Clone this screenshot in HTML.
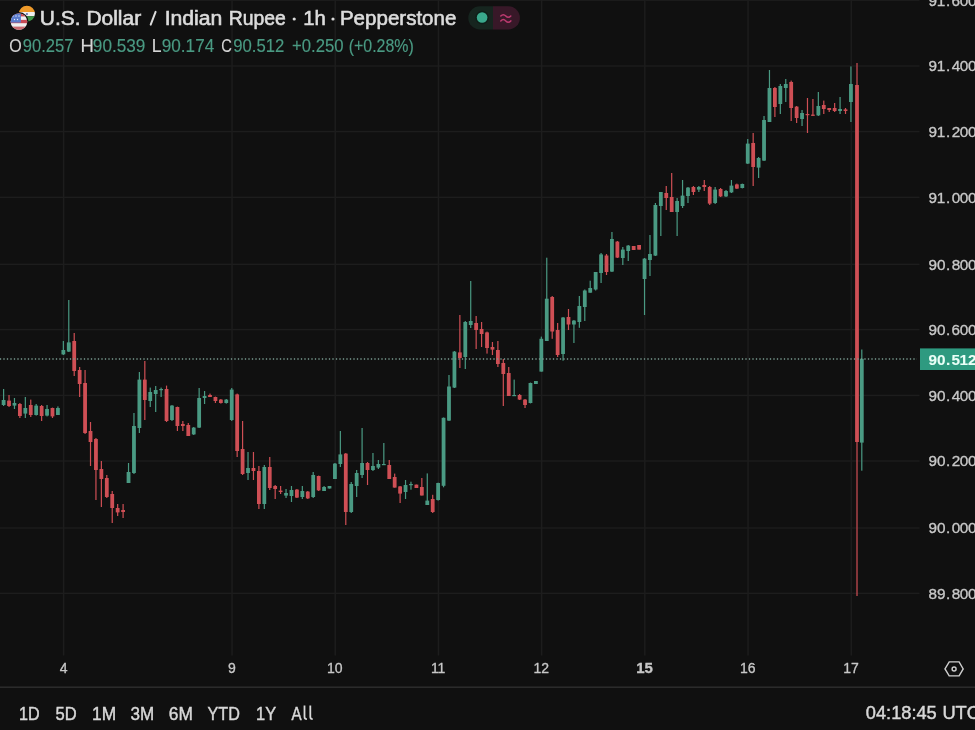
<!DOCTYPE html>
<html><head><meta charset="utf-8"><title>USDINR</title>
<style>
html,body{margin:0;padding:0;background:#101010;width:975px;height:730px;overflow:hidden;}
svg{position:absolute;left:0;top:0;font-family:"Liberation Sans",sans-serif;will-change:transform;}
</style></head><body>
<svg width="975" height="730" viewBox="0 0 975 730">
<rect x="0" y="-0.50" width="919.5" height="1.4" fill="#1d1d1d"/>
<rect x="0" y="65.30" width="919.5" height="1.4" fill="#1d1d1d"/>
<rect x="0" y="130.90" width="919.5" height="1.4" fill="#1d1d1d"/>
<rect x="0" y="196.60" width="919.5" height="1.4" fill="#1d1d1d"/>
<rect x="0" y="263.60" width="919.5" height="1.4" fill="#1d1d1d"/>
<rect x="0" y="328.90" width="919.5" height="1.4" fill="#1d1d1d"/>
<rect x="0" y="394.70" width="919.5" height="1.4" fill="#1d1d1d"/>
<rect x="0" y="460.30" width="919.5" height="1.4" fill="#1d1d1d"/>
<rect x="0" y="527.30" width="919.5" height="1.4" fill="#1d1d1d"/>
<rect x="0" y="592.60" width="919.5" height="1.4" fill="#1d1d1d"/>
<rect x="62.90" y="0" width="1.5" height="655.5" fill="#1d1d1d"/>
<rect x="231.28" y="0" width="1.5" height="655.5" fill="#1d1d1d"/>
<rect x="334.48" y="0" width="1.5" height="655.5" fill="#1d1d1d"/>
<rect x="437.68" y="0" width="1.5" height="655.5" fill="#1d1d1d"/>
<rect x="540.88" y="0" width="1.5" height="655.5" fill="#1d1d1d"/>
<rect x="644.08" y="0" width="1.5" height="655.5" fill="#1d1d1d"/>
<rect x="747.29" y="0" width="1.5" height="655.5" fill="#1d1d1d"/>
<rect x="850.49" y="0" width="1.5" height="655.5" fill="#1d1d1d"/>
<rect x="3.00" y="389.00" width="1.2" height="17.00" fill="#4a9a83"/>
<rect x="1.70" y="400.00" width="3.8" height="5.00" fill="#4a9a83"/>
<rect x="8.43" y="395.00" width="1.2" height="12.00" fill="#cf4f55"/>
<rect x="7.13" y="400.60" width="3.8" height="5.40" fill="#cf4f55"/>
<rect x="13.86" y="398.00" width="1.2" height="11.00" fill="#4a9a83"/>
<rect x="12.56" y="403.00" width="3.8" height="2.60" fill="#4a9a83"/>
<rect x="19.29" y="403.00" width="1.2" height="15.00" fill="#cf4f55"/>
<rect x="17.99" y="404.00" width="3.8" height="12.00" fill="#cf4f55"/>
<rect x="24.73" y="397.00" width="1.2" height="21.00" fill="#4a9a83"/>
<rect x="23.43" y="408.00" width="3.8" height="5.60" fill="#4a9a83"/>
<rect x="30.16" y="399.60" width="1.2" height="17.40" fill="#cf4f55"/>
<rect x="28.86" y="405.00" width="3.8" height="10.00" fill="#cf4f55"/>
<rect x="35.59" y="404.00" width="1.2" height="11.60" fill="#4a9a83"/>
<rect x="34.29" y="405.60" width="3.8" height="9.40" fill="#4a9a83"/>
<rect x="41.02" y="405.00" width="1.2" height="16.00" fill="#cf4f55"/>
<rect x="39.72" y="406.00" width="3.8" height="10.00" fill="#cf4f55"/>
<rect x="46.45" y="405.00" width="1.2" height="11.40" fill="#4a9a83"/>
<rect x="45.15" y="409.00" width="3.8" height="6.60" fill="#4a9a83"/>
<rect x="51.88" y="407.60" width="1.2" height="10.40" fill="#cf4f55"/>
<rect x="50.58" y="408.00" width="3.8" height="8.40" fill="#cf4f55"/>
<rect x="57.32" y="406.40" width="1.2" height="8.60" fill="#4a9a83"/>
<rect x="56.02" y="408.00" width="3.8" height="7.00" fill="#4a9a83"/>
<rect x="62.75" y="341.00" width="1.2" height="14.00" fill="#4a9a83"/>
<rect x="61.45" y="350.00" width="3.8" height="4.40" fill="#4a9a83"/>
<rect x="68.18" y="300.00" width="1.2" height="52.00" fill="#4a9a83"/>
<rect x="66.88" y="342.40" width="3.8" height="9.20" fill="#4a9a83"/>
<rect x="73.61" y="333.00" width="1.2" height="43.00" fill="#cf4f55"/>
<rect x="72.31" y="341.00" width="3.8" height="30.00" fill="#cf4f55"/>
<rect x="79.04" y="367.00" width="1.2" height="30.00" fill="#cf4f55"/>
<rect x="77.74" y="370.00" width="3.8" height="14.00" fill="#cf4f55"/>
<rect x="84.47" y="370.00" width="1.2" height="64.00" fill="#cf4f55"/>
<rect x="83.17" y="383.00" width="3.8" height="50.00" fill="#cf4f55"/>
<rect x="89.91" y="422.00" width="1.2" height="44.00" fill="#cf4f55"/>
<rect x="88.61" y="431.00" width="3.8" height="11.00" fill="#cf4f55"/>
<rect x="95.34" y="438.00" width="1.2" height="62.00" fill="#cf4f55"/>
<rect x="94.04" y="439.00" width="3.8" height="31.00" fill="#cf4f55"/>
<rect x="100.77" y="461.00" width="1.2" height="46.00" fill="#cf4f55"/>
<rect x="99.47" y="469.00" width="3.8" height="10.00" fill="#cf4f55"/>
<rect x="106.20" y="475.00" width="1.2" height="23.00" fill="#cf4f55"/>
<rect x="104.90" y="478.00" width="3.8" height="19.00" fill="#cf4f55"/>
<rect x="111.63" y="491.00" width="1.2" height="32.00" fill="#cf4f55"/>
<rect x="110.33" y="494.00" width="3.8" height="14.00" fill="#cf4f55"/>
<rect x="117.06" y="504.00" width="1.2" height="12.00" fill="#cf4f55"/>
<rect x="115.76" y="508.00" width="3.8" height="4.40" fill="#cf4f55"/>
<rect x="122.50" y="504.00" width="1.2" height="14.00" fill="#cf4f55"/>
<rect x="121.20" y="510.00" width="3.8" height="2.00" fill="#cf4f55"/>
<rect x="127.93" y="463.00" width="1.2" height="20.00" fill="#4a9a83"/>
<rect x="126.63" y="472.00" width="3.8" height="11.00" fill="#4a9a83"/>
<rect x="133.36" y="413.00" width="1.2" height="61.00" fill="#4a9a83"/>
<rect x="132.06" y="426.00" width="3.8" height="47.00" fill="#4a9a83"/>
<rect x="138.79" y="372.00" width="1.2" height="61.00" fill="#4a9a83"/>
<rect x="137.49" y="379.60" width="3.8" height="48.40" fill="#4a9a83"/>
<rect x="144.22" y="361.00" width="1.2" height="59.00" fill="#cf4f55"/>
<rect x="142.92" y="379.60" width="3.8" height="20.40" fill="#cf4f55"/>
<rect x="149.65" y="387.60" width="1.2" height="19.40" fill="#4a9a83"/>
<rect x="148.35" y="392.00" width="3.8" height="9.00" fill="#4a9a83"/>
<rect x="155.09" y="386.00" width="1.2" height="26.00" fill="#4a9a83"/>
<rect x="153.79" y="390.00" width="3.8" height="4.00" fill="#4a9a83"/>
<rect x="160.52" y="387.60" width="1.2" height="9.40" fill="#4a9a83"/>
<rect x="159.22" y="389.00" width="3.8" height="1.20" fill="#4a9a83"/>
<rect x="165.95" y="385.60" width="1.2" height="36.40" fill="#cf4f55"/>
<rect x="164.65" y="389.00" width="3.8" height="32.00" fill="#cf4f55"/>
<rect x="171.38" y="405.00" width="1.2" height="16.00" fill="#4a9a83"/>
<rect x="170.08" y="405.60" width="3.8" height="14.40" fill="#4a9a83"/>
<rect x="176.81" y="406.60" width="1.2" height="24.40" fill="#cf4f55"/>
<rect x="175.51" y="407.00" width="3.8" height="19.00" fill="#cf4f55"/>
<rect x="182.24" y="421.00" width="1.2" height="10.00" fill="#cf4f55"/>
<rect x="180.94" y="424.00" width="3.8" height="2.00" fill="#cf4f55"/>
<rect x="187.68" y="423.00" width="1.2" height="13.00" fill="#cf4f55"/>
<rect x="186.38" y="425.00" width="3.8" height="11.00" fill="#cf4f55"/>
<rect x="193.11" y="427.00" width="1.2" height="8.00" fill="#4a9a83"/>
<rect x="191.81" y="427.60" width="3.8" height="6.80" fill="#4a9a83"/>
<rect x="198.54" y="388.00" width="1.2" height="40.00" fill="#4a9a83"/>
<rect x="197.24" y="398.00" width="3.8" height="29.60" fill="#4a9a83"/>
<rect x="203.97" y="391.00" width="1.2" height="13.00" fill="#4a9a83"/>
<rect x="202.67" y="396.00" width="3.8" height="2.00" fill="#4a9a83"/>
<rect x="209.40" y="393.60" width="1.2" height="3.40" fill="#cf4f55"/>
<rect x="208.10" y="395.00" width="3.8" height="2.00" fill="#cf4f55"/>
<rect x="214.83" y="396.60" width="1.2" height="6.40" fill="#cf4f55"/>
<rect x="213.53" y="397.00" width="3.8" height="4.00" fill="#cf4f55"/>
<rect x="220.27" y="399.00" width="1.2" height="4.60" fill="#cf4f55"/>
<rect x="218.97" y="399.60" width="3.8" height="3.40" fill="#cf4f55"/>
<rect x="225.70" y="399.00" width="1.2" height="4.60" fill="#4a9a83"/>
<rect x="224.40" y="399.60" width="3.8" height="3.40" fill="#4a9a83"/>
<rect x="231.13" y="388.00" width="1.2" height="33.00" fill="#4a9a83"/>
<rect x="229.83" y="389.60" width="3.8" height="30.40" fill="#4a9a83"/>
<rect x="236.56" y="393.60" width="1.2" height="63.40" fill="#cf4f55"/>
<rect x="235.26" y="394.40" width="3.8" height="56.60" fill="#cf4f55"/>
<rect x="241.99" y="421.00" width="1.2" height="54.00" fill="#cf4f55"/>
<rect x="240.69" y="449.00" width="3.8" height="25.00" fill="#cf4f55"/>
<rect x="247.42" y="452.00" width="1.2" height="28.00" fill="#4a9a83"/>
<rect x="246.12" y="468.00" width="3.8" height="5.00" fill="#4a9a83"/>
<rect x="252.86" y="452.00" width="1.2" height="28.00" fill="#cf4f55"/>
<rect x="251.56" y="468.00" width="3.8" height="3.00" fill="#cf4f55"/>
<rect x="258.29" y="466.00" width="1.2" height="43.00" fill="#cf4f55"/>
<rect x="256.99" y="471.00" width="3.8" height="33.00" fill="#cf4f55"/>
<rect x="263.72" y="465.00" width="1.2" height="44.00" fill="#4a9a83"/>
<rect x="262.42" y="467.00" width="3.8" height="37.00" fill="#4a9a83"/>
<rect x="269.15" y="457.00" width="1.2" height="33.00" fill="#cf4f55"/>
<rect x="267.85" y="467.00" width="3.8" height="21.00" fill="#cf4f55"/>
<rect x="274.58" y="485.00" width="1.2" height="14.00" fill="#cf4f55"/>
<rect x="273.28" y="486.00" width="3.8" height="3.00" fill="#cf4f55"/>
<rect x="280.01" y="486.00" width="1.2" height="8.00" fill="#cf4f55"/>
<rect x="278.71" y="490.60" width="3.8" height="1.40" fill="#cf4f55"/>
<rect x="285.45" y="489.00" width="1.2" height="9.00" fill="#4a9a83"/>
<rect x="284.15" y="493.00" width="3.8" height="2.60" fill="#4a9a83"/>
<rect x="290.88" y="486.00" width="1.2" height="16.00" fill="#4a9a83"/>
<rect x="289.58" y="490.00" width="3.8" height="6.00" fill="#4a9a83"/>
<rect x="296.31" y="489.00" width="1.2" height="9.00" fill="#cf4f55"/>
<rect x="295.01" y="489.60" width="3.8" height="8.00" fill="#cf4f55"/>
<rect x="301.74" y="486.00" width="1.2" height="13.00" fill="#4a9a83"/>
<rect x="300.44" y="491.00" width="3.8" height="6.00" fill="#4a9a83"/>
<rect x="307.17" y="491.00" width="1.2" height="8.00" fill="#cf4f55"/>
<rect x="305.87" y="491.60" width="3.8" height="6.80" fill="#cf4f55"/>
<rect x="312.60" y="472.00" width="1.2" height="26.00" fill="#4a9a83"/>
<rect x="311.30" y="475.00" width="3.8" height="22.00" fill="#4a9a83"/>
<rect x="318.04" y="475.60" width="1.2" height="15.40" fill="#cf4f55"/>
<rect x="316.74" y="476.00" width="3.8" height="14.40" fill="#cf4f55"/>
<rect x="323.47" y="486.00" width="1.2" height="5.00" fill="#4a9a83"/>
<rect x="322.17" y="487.00" width="3.8" height="4.00" fill="#4a9a83"/>
<rect x="328.90" y="486.00" width="1.2" height="2.50" fill="#4a9a83"/>
<rect x="327.60" y="486.00" width="3.8" height="2.50" fill="#4a9a83"/>
<rect x="334.33" y="463.00" width="1.2" height="16.00" fill="#4a9a83"/>
<rect x="333.03" y="463.60" width="3.8" height="15.40" fill="#4a9a83"/>
<rect x="339.76" y="431.00" width="1.2" height="36.00" fill="#4a9a83"/>
<rect x="338.46" y="454.40" width="3.8" height="9.60" fill="#4a9a83"/>
<rect x="345.19" y="453.00" width="1.2" height="72.00" fill="#cf4f55"/>
<rect x="343.89" y="453.60" width="3.8" height="58.40" fill="#cf4f55"/>
<rect x="350.63" y="482.00" width="1.2" height="31.00" fill="#4a9a83"/>
<rect x="349.33" y="484.00" width="3.8" height="28.00" fill="#4a9a83"/>
<rect x="356.06" y="470.00" width="1.2" height="27.00" fill="#4a9a83"/>
<rect x="354.76" y="473.00" width="3.8" height="13.00" fill="#4a9a83"/>
<rect x="361.49" y="428.00" width="1.2" height="50.00" fill="#4a9a83"/>
<rect x="360.19" y="463.00" width="3.8" height="12.00" fill="#4a9a83"/>
<rect x="366.92" y="462.00" width="1.2" height="23.00" fill="#cf4f55"/>
<rect x="365.62" y="463.00" width="3.8" height="7.00" fill="#cf4f55"/>
<rect x="372.35" y="453.00" width="1.2" height="18.00" fill="#4a9a83"/>
<rect x="371.05" y="466.00" width="3.8" height="4.00" fill="#4a9a83"/>
<rect x="377.78" y="460.00" width="1.2" height="9.00" fill="#4a9a83"/>
<rect x="376.48" y="464.00" width="3.8" height="3.60" fill="#4a9a83"/>
<rect x="383.22" y="443.00" width="1.2" height="22.00" fill="#4a9a83"/>
<rect x="381.92" y="464.00" width="3.8" height="1.20" fill="#4a9a83"/>
<rect x="388.65" y="460.00" width="1.2" height="19.00" fill="#cf4f55"/>
<rect x="387.35" y="465.00" width="3.8" height="14.00" fill="#cf4f55"/>
<rect x="394.08" y="473.60" width="1.2" height="14.00" fill="#cf4f55"/>
<rect x="392.78" y="477.00" width="3.8" height="10.60" fill="#cf4f55"/>
<rect x="399.51" y="486.00" width="1.2" height="17.00" fill="#cf4f55"/>
<rect x="398.21" y="486.40" width="3.8" height="7.20" fill="#cf4f55"/>
<rect x="404.94" y="480.00" width="1.2" height="19.00" fill="#4a9a83"/>
<rect x="403.64" y="485.00" width="3.8" height="7.00" fill="#4a9a83"/>
<rect x="410.37" y="481.70" width="1.2" height="8.00" fill="#4a9a83"/>
<rect x="409.07" y="484.00" width="3.8" height="1.20" fill="#4a9a83"/>
<rect x="415.81" y="484.60" width="1.2" height="3.40" fill="#cf4f55"/>
<rect x="414.51" y="484.60" width="3.8" height="3.40" fill="#cf4f55"/>
<rect x="421.24" y="478.00" width="1.2" height="17.50" fill="#cf4f55"/>
<rect x="419.94" y="487.00" width="3.8" height="8.50" fill="#cf4f55"/>
<rect x="426.67" y="473.40" width="1.2" height="31.60" fill="#4a9a83"/>
<rect x="425.37" y="500.60" width="3.8" height="4.40" fill="#4a9a83"/>
<rect x="432.10" y="494.80" width="1.2" height="18.20" fill="#cf4f55"/>
<rect x="430.80" y="499.00" width="3.8" height="13.00" fill="#cf4f55"/>
<rect x="437.53" y="482.70" width="1.2" height="17.90" fill="#4a9a83"/>
<rect x="436.23" y="483.00" width="3.8" height="17.00" fill="#4a9a83"/>
<rect x="442.96" y="417.50" width="1.2" height="69.80" fill="#4a9a83"/>
<rect x="441.66" y="417.80" width="3.8" height="68.00" fill="#4a9a83"/>
<rect x="448.39" y="375.00" width="1.2" height="46.00" fill="#4a9a83"/>
<rect x="447.09" y="386.50" width="3.8" height="34.10" fill="#4a9a83"/>
<rect x="453.83" y="351.00" width="1.2" height="37.00" fill="#4a9a83"/>
<rect x="452.53" y="351.60" width="3.8" height="36.00" fill="#4a9a83"/>
<rect x="459.26" y="315.00" width="1.2" height="53.00" fill="#cf4f55"/>
<rect x="457.96" y="352.40" width="3.8" height="5.60" fill="#cf4f55"/>
<rect x="464.69" y="321.00" width="1.2" height="48.00" fill="#4a9a83"/>
<rect x="463.39" y="322.00" width="3.8" height="35.00" fill="#4a9a83"/>
<rect x="470.12" y="281.00" width="1.2" height="47.00" fill="#4a9a83"/>
<rect x="468.82" y="321.00" width="3.8" height="4.00" fill="#4a9a83"/>
<rect x="475.55" y="316.00" width="1.2" height="33.00" fill="#cf4f55"/>
<rect x="474.25" y="323.00" width="3.8" height="7.00" fill="#cf4f55"/>
<rect x="480.98" y="322.00" width="1.2" height="25.00" fill="#cf4f55"/>
<rect x="479.68" y="329.00" width="3.8" height="5.00" fill="#cf4f55"/>
<rect x="486.42" y="331.60" width="1.2" height="22.00" fill="#cf4f55"/>
<rect x="485.12" y="332.40" width="3.8" height="15.60" fill="#cf4f55"/>
<rect x="491.85" y="342.00" width="1.2" height="13.00" fill="#cf4f55"/>
<rect x="490.55" y="347.00" width="3.8" height="2.60" fill="#cf4f55"/>
<rect x="497.28" y="341.00" width="1.2" height="26.00" fill="#cf4f55"/>
<rect x="495.98" y="350.00" width="3.8" height="14.00" fill="#cf4f55"/>
<rect x="502.71" y="359.00" width="1.2" height="47.00" fill="#cf4f55"/>
<rect x="501.41" y="363.00" width="3.8" height="11.00" fill="#cf4f55"/>
<rect x="508.14" y="367.00" width="1.2" height="29.00" fill="#cf4f55"/>
<rect x="506.84" y="373.00" width="3.8" height="23.00" fill="#cf4f55"/>
<rect x="513.57" y="379.60" width="1.2" height="16.40" fill="#4a9a83"/>
<rect x="512.27" y="395.00" width="3.8" height="1.20" fill="#4a9a83"/>
<rect x="519.01" y="394.00" width="1.2" height="6.00" fill="#cf4f55"/>
<rect x="517.71" y="395.00" width="3.8" height="4.60" fill="#cf4f55"/>
<rect x="524.44" y="399.00" width="1.2" height="9.00" fill="#cf4f55"/>
<rect x="523.14" y="399.60" width="3.8" height="5.40" fill="#cf4f55"/>
<rect x="529.87" y="382.60" width="1.2" height="20.80" fill="#4a9a83"/>
<rect x="528.57" y="383.00" width="3.8" height="20.00" fill="#4a9a83"/>
<rect x="535.30" y="381.00" width="1.2" height="3.00" fill="#4a9a83"/>
<rect x="534.00" y="381.00" width="3.8" height="3.00" fill="#4a9a83"/>
<rect x="540.73" y="336.60" width="1.2" height="35.00" fill="#4a9a83"/>
<rect x="539.43" y="338.80" width="3.8" height="32.80" fill="#4a9a83"/>
<rect x="546.16" y="257.70" width="1.2" height="83.30" fill="#4a9a83"/>
<rect x="544.86" y="298.70" width="3.8" height="42.30" fill="#4a9a83"/>
<rect x="551.60" y="296.00" width="1.2" height="42.80" fill="#cf4f55"/>
<rect x="550.30" y="297.00" width="3.8" height="34.50" fill="#cf4f55"/>
<rect x="557.03" y="323.00" width="1.2" height="34.00" fill="#cf4f55"/>
<rect x="555.73" y="330.00" width="3.8" height="25.00" fill="#cf4f55"/>
<rect x="562.46" y="317.00" width="1.2" height="43.70" fill="#4a9a83"/>
<rect x="561.16" y="317.50" width="3.8" height="36.50" fill="#4a9a83"/>
<rect x="567.89" y="309.00" width="1.2" height="21.00" fill="#cf4f55"/>
<rect x="566.59" y="317.00" width="3.8" height="7.50" fill="#cf4f55"/>
<rect x="573.32" y="320.00" width="1.2" height="23.00" fill="#4a9a83"/>
<rect x="572.02" y="320.60" width="3.8" height="3.90" fill="#4a9a83"/>
<rect x="578.75" y="296.00" width="1.2" height="31.80" fill="#4a9a83"/>
<rect x="577.45" y="306.00" width="3.8" height="16.00" fill="#4a9a83"/>
<rect x="584.19" y="289.50" width="1.2" height="31.50" fill="#4a9a83"/>
<rect x="582.89" y="290.50" width="3.8" height="16.50" fill="#4a9a83"/>
<rect x="589.62" y="280.70" width="1.2" height="12.00" fill="#4a9a83"/>
<rect x="588.32" y="288.00" width="3.8" height="4.70" fill="#4a9a83"/>
<rect x="595.05" y="272.00" width="1.2" height="18.50" fill="#4a9a83"/>
<rect x="593.75" y="272.00" width="3.8" height="17.50" fill="#4a9a83"/>
<rect x="600.48" y="253.00" width="1.2" height="30.00" fill="#4a9a83"/>
<rect x="599.18" y="254.40" width="3.8" height="18.60" fill="#4a9a83"/>
<rect x="605.91" y="254.00" width="1.2" height="21.00" fill="#cf4f55"/>
<rect x="604.61" y="255.50" width="3.8" height="16.50" fill="#cf4f55"/>
<rect x="611.34" y="232.00" width="1.2" height="40.00" fill="#4a9a83"/>
<rect x="610.04" y="239.00" width="3.8" height="32.60" fill="#4a9a83"/>
<rect x="616.78" y="241.00" width="1.2" height="17.00" fill="#cf4f55"/>
<rect x="615.48" y="241.60" width="3.8" height="16.00" fill="#cf4f55"/>
<rect x="622.21" y="247.00" width="1.2" height="18.00" fill="#4a9a83"/>
<rect x="620.91" y="249.60" width="3.8" height="8.40" fill="#4a9a83"/>
<rect x="627.64" y="245.00" width="1.2" height="16.00" fill="#4a9a83"/>
<rect x="626.34" y="245.60" width="3.8" height="5.40" fill="#4a9a83"/>
<rect x="633.07" y="246.00" width="1.2" height="4.00" fill="#cf4f55"/>
<rect x="631.77" y="246.00" width="3.8" height="4.00" fill="#cf4f55"/>
<rect x="638.50" y="245.00" width="1.2" height="4.60" fill="#cf4f55"/>
<rect x="637.20" y="245.00" width="3.8" height="4.60" fill="#cf4f55"/>
<rect x="643.93" y="258.00" width="1.2" height="57.00" fill="#4a9a83"/>
<rect x="642.63" y="258.60" width="3.8" height="20.40" fill="#4a9a83"/>
<rect x="649.37" y="235.00" width="1.2" height="41.00" fill="#4a9a83"/>
<rect x="648.07" y="254.00" width="3.8" height="6.00" fill="#4a9a83"/>
<rect x="654.80" y="203.00" width="1.2" height="53.00" fill="#4a9a83"/>
<rect x="653.50" y="205.00" width="3.8" height="50.60" fill="#4a9a83"/>
<rect x="660.23" y="192.00" width="1.2" height="44.00" fill="#4a9a83"/>
<rect x="658.93" y="192.00" width="3.8" height="14.00" fill="#4a9a83"/>
<rect x="665.66" y="186.00" width="1.2" height="24.00" fill="#cf4f55"/>
<rect x="664.36" y="193.00" width="3.8" height="5.00" fill="#cf4f55"/>
<rect x="671.09" y="173.00" width="1.2" height="39.00" fill="#cf4f55"/>
<rect x="669.79" y="197.00" width="3.8" height="15.00" fill="#cf4f55"/>
<rect x="676.52" y="198.00" width="1.2" height="38.00" fill="#4a9a83"/>
<rect x="675.22" y="201.00" width="3.8" height="11.00" fill="#4a9a83"/>
<rect x="681.96" y="180.00" width="1.2" height="28.00" fill="#4a9a83"/>
<rect x="680.66" y="195.60" width="3.8" height="10.40" fill="#4a9a83"/>
<rect x="687.39" y="187.00" width="1.2" height="16.00" fill="#4a9a83"/>
<rect x="686.09" y="187.60" width="3.8" height="8.40" fill="#4a9a83"/>
<rect x="692.82" y="186.00" width="1.2" height="9.00" fill="#cf4f55"/>
<rect x="691.52" y="187.00" width="3.8" height="5.00" fill="#cf4f55"/>
<rect x="698.25" y="186.00" width="1.2" height="6.00" fill="#4a9a83"/>
<rect x="696.95" y="187.00" width="3.8" height="2.60" fill="#4a9a83"/>
<rect x="703.68" y="180.00" width="1.2" height="11.00" fill="#cf4f55"/>
<rect x="702.38" y="185.00" width="3.8" height="2.00" fill="#cf4f55"/>
<rect x="709.11" y="186.00" width="1.2" height="19.00" fill="#cf4f55"/>
<rect x="707.81" y="187.00" width="3.8" height="16.60" fill="#cf4f55"/>
<rect x="714.55" y="187.00" width="1.2" height="17.00" fill="#4a9a83"/>
<rect x="713.25" y="189.60" width="3.8" height="13.40" fill="#4a9a83"/>
<rect x="719.98" y="188.00" width="1.2" height="9.00" fill="#cf4f55"/>
<rect x="718.68" y="189.00" width="3.8" height="7.40" fill="#cf4f55"/>
<rect x="725.41" y="190.00" width="1.2" height="7.00" fill="#4a9a83"/>
<rect x="724.11" y="191.00" width="3.8" height="5.40" fill="#4a9a83"/>
<rect x="730.84" y="180.00" width="1.2" height="13.00" fill="#4a9a83"/>
<rect x="729.54" y="185.60" width="3.8" height="6.80" fill="#4a9a83"/>
<rect x="736.27" y="183.60" width="1.2" height="5.40" fill="#cf4f55"/>
<rect x="734.97" y="184.40" width="3.8" height="4.20" fill="#cf4f55"/>
<rect x="741.70" y="183.60" width="1.2" height="4.80" fill="#4a9a83"/>
<rect x="740.40" y="184.00" width="3.8" height="4.00" fill="#4a9a83"/>
<rect x="747.14" y="139.00" width="1.2" height="25.00" fill="#4a9a83"/>
<rect x="745.84" y="143.60" width="3.8" height="20.00" fill="#4a9a83"/>
<rect x="752.57" y="133.00" width="1.2" height="53.00" fill="#cf4f55"/>
<rect x="751.27" y="143.00" width="3.8" height="24.00" fill="#cf4f55"/>
<rect x="758.00" y="157.00" width="1.2" height="21.00" fill="#4a9a83"/>
<rect x="756.70" y="158.00" width="3.8" height="9.60" fill="#4a9a83"/>
<rect x="763.43" y="116.00" width="1.2" height="45.00" fill="#4a9a83"/>
<rect x="762.13" y="120.00" width="3.8" height="40.60" fill="#4a9a83"/>
<rect x="768.86" y="70.00" width="1.2" height="52.00" fill="#4a9a83"/>
<rect x="767.56" y="88.00" width="3.8" height="34.00" fill="#4a9a83"/>
<rect x="774.29" y="87.00" width="1.2" height="30.00" fill="#cf4f55"/>
<rect x="772.99" y="88.00" width="3.8" height="19.00" fill="#cf4f55"/>
<rect x="779.73" y="84.00" width="1.2" height="30.00" fill="#4a9a83"/>
<rect x="778.43" y="86.00" width="3.8" height="18.00" fill="#4a9a83"/>
<rect x="785.16" y="79.00" width="1.2" height="23.00" fill="#4a9a83"/>
<rect x="783.86" y="84.00" width="3.8" height="4.00" fill="#4a9a83"/>
<rect x="790.59" y="80.60" width="1.2" height="40.40" fill="#cf4f55"/>
<rect x="789.29" y="82.00" width="3.8" height="26.00" fill="#cf4f55"/>
<rect x="796.02" y="106.00" width="1.2" height="17.00" fill="#cf4f55"/>
<rect x="794.72" y="106.60" width="3.8" height="11.40" fill="#cf4f55"/>
<rect x="801.45" y="110.00" width="1.2" height="16.00" fill="#4a9a83"/>
<rect x="800.15" y="113.00" width="3.8" height="6.00" fill="#4a9a83"/>
<rect x="806.88" y="98.00" width="1.2" height="35.00" fill="#cf4f55"/>
<rect x="805.58" y="114.00" width="3.8" height="1.20" fill="#cf4f55"/>
<rect x="812.32" y="99.00" width="1.2" height="17.00" fill="#cf4f55"/>
<rect x="811.02" y="114.60" width="3.8" height="1.20" fill="#cf4f55"/>
<rect x="817.75" y="92.00" width="1.2" height="24.00" fill="#4a9a83"/>
<rect x="816.45" y="106.00" width="3.8" height="9.40" fill="#4a9a83"/>
<rect x="823.18" y="100.60" width="1.2" height="13.40" fill="#cf4f55"/>
<rect x="821.88" y="105.00" width="3.8" height="4.00" fill="#cf4f55"/>
<rect x="828.61" y="108.00" width="1.2" height="4.00" fill="#cf4f55"/>
<rect x="827.31" y="108.00" width="3.8" height="2.00" fill="#cf4f55"/>
<rect x="834.04" y="103.00" width="1.2" height="9.00" fill="#cf4f55"/>
<rect x="832.74" y="108.00" width="3.8" height="3.00" fill="#cf4f55"/>
<rect x="839.47" y="97.00" width="1.2" height="17.00" fill="#4a9a83"/>
<rect x="838.17" y="109.00" width="3.8" height="2.00" fill="#4a9a83"/>
<rect x="844.91" y="108.00" width="1.2" height="6.00" fill="#cf4f55"/>
<rect x="843.61" y="109.40" width="3.8" height="1.60" fill="#cf4f55"/>
<rect x="850.34" y="66.40" width="1.2" height="55.60" fill="#4a9a83"/>
<rect x="849.04" y="84.00" width="3.8" height="18.00" fill="#4a9a83"/>
<rect x="856.40" y="63.00" width="1.2" height="533.00" fill="#cf4f55"/>
<rect x="855.10" y="85.00" width="3.8" height="357.00" fill="#cf4f55"/>
<rect x="861.20" y="349.50" width="1.2" height="121.20" fill="#4a9a83"/>
<rect x="859.90" y="358.80" width="3.8" height="83.80" fill="#4a9a83"/>
<line x1="-0.15" y1="359.00" x2="917" y2="359.00" stroke="#7a9c91" stroke-width="1.3" stroke-dasharray="1.3 2.2"/>
<rect x="0" y="686.5" width="975" height="1.4" fill="#2f2f2f"/>
<g fill="none" stroke="#cfcfcf" stroke-width="1.4">
<path d="M945 668.9 L949.2 661.9 L959.1 661.9 L963.2 668.9 L959.1 675.9 L949.2 675.9 Z"/>
<circle cx="954.1" cy="669.0" r="2.0"/>
</g>
<path d="M479.9 6.3 H493 V29.5 H479.9 A11.6 11.6 0 0 1 479.9 6.3 Z" fill="#16251f"/>
<path d="M493 6.3 H508.3 A11.6 11.6 0 0 1 508.3 29.5 H493 Z" fill="#381828"/>
<circle cx="482.1" cy="17.5" r="6.8" fill="#0e1f19"/>
<circle cx="482.1" cy="17.5" r="5.3" fill="#3aa88c"/>
<g fill="none" stroke="#bd3a70" stroke-width="1.5" stroke-linecap="round">
<path d="M500.8 16.0 q2.5 -2.6 5 0 t5 0"/>
<path d="M500.8 20.9 q2.5 -2.6 5 0 t5 0"/>
</g>
<defs>
<clipPath id="cin"><circle cx="26.9" cy="13.7" r="8"/></clipPath>
<clipPath id="cus"><circle cx="18.95" cy="21.7" r="8.3"/></clipPath>
</defs>
<g clip-path="url(#cin)">
<rect x="18" y="5" width="20" height="7" fill="#ee9a2a"/>
<rect x="18" y="12" width="20" height="4.2" fill="#f0f0f0"/>
<rect x="18" y="16.2" width="20" height="6" fill="#3f9648"/>
<circle cx="26.9" cy="14.1" r="1.1" fill="#6a78b0"/>
</g>
<circle cx="18.95" cy="21.7" r="9.6" fill="#101010"/>
<g clip-path="url(#cus)">
<rect x="10" y="13" width="18" height="18" fill="#f0f0f0"/>
<rect x="10" y="13" width="18" height="3.4" fill="#c74a55"/>
<rect x="10" y="19.9" width="18" height="3.3" fill="#c74a55"/>
<rect x="10" y="26.6" width="18" height="4" fill="#c96a70"/>
<rect x="10" y="13" width="10.9" height="9.6" fill="#5b7ccc"/>
<g fill="#dfe8ff"><circle cx="13" cy="16" r="0.7"/><circle cx="16" cy="16" r="0.7"/><circle cx="19" cy="16" r="0.7"/><circle cx="14.5" cy="19.5" r="0.7"/><circle cx="17.5" cy="19.5" r="0.7"/></g>
</g>
<text x="39.89" y="25.40" font-size="20" fill="#dcdcdc" textLength="101.28" lengthAdjust="spacingAndGlyphs" stroke="#dcdcdc" stroke-width="0.6">U.S. Dollar</text>
<text x="164.65" y="25.40" font-size="20" fill="#dcdcdc" textLength="57.74" lengthAdjust="spacingAndGlyphs" stroke="#dcdcdc" stroke-width="0.6">Indian</text>
<text x="228.71" y="25.40" font-size="20" fill="#dcdcdc" textLength="57.14" lengthAdjust="spacingAndGlyphs" stroke="#dcdcdc" stroke-width="0.6">Rupee</text>
<text x="303.16" y="25.40" font-size="20" fill="#dcdcdc" textLength="22.57" lengthAdjust="spacingAndGlyphs" stroke="#dcdcdc" stroke-width="0.6">1h</text>
<text x="339.92" y="25.40" font-size="20" fill="#dcdcdc" textLength="116.49" lengthAdjust="spacingAndGlyphs" stroke="#dcdcdc" stroke-width="0.6">Pepperstone</text>
<line x1="150.7" y1="24.6" x2="155.6" y2="11.9" stroke="#dcdcdc" stroke-width="2" stroke-linecap="round"/>
<circle cx="294.2" cy="19.0" r="1.6" fill="#dcdcdc"/>
<circle cx="333.0" cy="19.0" r="1.6" fill="#dcdcdc"/>
<text x="9.22" y="51.70" font-size="17.5" fill="#d4d4d4" textLength="12.47" lengthAdjust="spacingAndGlyphs" stroke="#d4d4d4" stroke-width="0.15">O</text>
<text x="22.80" y="51.70" font-size="17.5" fill="#4a9a83" textLength="50.67" lengthAdjust="spacingAndGlyphs" stroke="#4a9a83" stroke-width="0.15">90.257</text>
<text x="80.46" y="51.70" font-size="17.5" fill="#d4d4d4" textLength="13.37" lengthAdjust="spacingAndGlyphs" stroke="#d4d4d4" stroke-width="0.15">H</text>
<text x="92.87" y="51.70" font-size="17.5" fill="#4a9a83" textLength="52.47" lengthAdjust="spacingAndGlyphs" stroke="#4a9a83" stroke-width="0.15">90.539</text>
<text x="151.83" y="51.70" font-size="17.5" fill="#d4d4d4" textLength="9.77" lengthAdjust="spacingAndGlyphs" stroke="#d4d4d4" stroke-width="0.15">L</text>
<text x="161.77" y="51.70" font-size="17.5" fill="#4a9a83" textLength="52.46" lengthAdjust="spacingAndGlyphs" stroke="#4a9a83" stroke-width="0.15">90.174</text>
<text x="221.33" y="51.70" font-size="17.5" fill="#d4d4d4" textLength="10.55" lengthAdjust="spacingAndGlyphs" stroke="#d4d4d4" stroke-width="0.15">C</text>
<text x="233.19" y="51.70" font-size="17.5" fill="#4a9a83" textLength="51.08" lengthAdjust="spacingAndGlyphs" stroke="#4a9a83" stroke-width="0.15">90.512</text>
<text x="292.06" y="51.70" font-size="17.5" fill="#4a9a83" textLength="51.53" lengthAdjust="spacingAndGlyphs" stroke="#4a9a83" stroke-width="0.15">+0.250</text>
<text x="348.69" y="51.70" font-size="17.5" fill="#4a9a83" textLength="65.03" lengthAdjust="spacingAndGlyphs" stroke="#4a9a83" stroke-width="0.15">(+0.28%)</text>
<text x="928.45 936.74 945.97 951.59 959.85 968.05" y="5.60" font-size="15.3" fill="#c8c8c8" stroke="#c8c8c8" stroke-width="0.35">91.600</text>
<text x="928.45 936.74 945.97 951.69 959.85 968.05" y="71.40" font-size="15.3" fill="#c8c8c8" stroke="#c8c8c8" stroke-width="0.35">91.400</text>
<text x="928.45 936.74 945.97 951.65 959.85 968.05" y="137.00" font-size="15.3" fill="#c8c8c8" stroke="#c8c8c8" stroke-width="0.35">91.200</text>
<text x="928.45 936.74 945.97 951.65 959.85 968.05" y="202.70" font-size="15.3" fill="#c8c8c8" stroke="#c8c8c8" stroke-width="0.35">91.000</text>
<text x="928.45 936.95 945.97 951.65 959.85 968.05" y="269.70" font-size="15.3" fill="#c8c8c8" stroke="#c8c8c8" stroke-width="0.35">90.800</text>
<text x="928.45 936.95 945.97 951.59 959.85 968.05" y="335.00" font-size="15.3" fill="#c8c8c8" stroke="#c8c8c8" stroke-width="0.35">90.600</text>
<text x="928.45 936.95 945.97 951.69 959.85 968.05" y="400.80" font-size="15.3" fill="#c8c8c8" stroke="#c8c8c8" stroke-width="0.35">90.400</text>
<text x="928.45 936.95 945.97 951.65 959.85 968.05" y="466.40" font-size="15.3" fill="#c8c8c8" stroke="#c8c8c8" stroke-width="0.35">90.200</text>
<text x="928.45 936.95 945.97 951.65 959.85 968.05" y="533.40" font-size="15.3" fill="#c8c8c8" stroke="#c8c8c8" stroke-width="0.35">90.000</text>
<text x="928.45 936.95 945.97 951.65 959.85 968.05" y="598.70" font-size="15.3" fill="#c8c8c8" stroke="#c8c8c8" stroke-width="0.35">89.800</text>
<rect x="920" y="348.4" width="60" height="21.6" fill="#2e9a80"/>
<text x="928.46 936.95 945.98 951.62 959.58 968.08" y="365.40" font-size="15.3" fill="#eafff7" font-weight="bold" stroke="#eafff7" stroke-width="0.1">90.512</text>
<text x="59.70" y="673.40" font-size="14" fill="#c8c8c8" stroke="#c8c8c8" stroke-width="0.3">4</text>
<text x="228.04" y="673.40" font-size="14" fill="#c8c8c8" stroke="#c8c8c8" stroke-width="0.3">9</text>
<text x="327.09" y="673.40" font-size="14" fill="#c8c8c8" stroke="#c8c8c8" stroke-width="0.3">10</text>
<text x="430.88" y="673.40" font-size="14" fill="#c8c8c8" stroke="#c8c8c8" stroke-width="0.3">11</text>
<text x="533.57" y="673.40" font-size="14" fill="#c8c8c8" stroke="#c8c8c8" stroke-width="0.3">12</text>
<text x="636.13" y="673.40" font-size="15" fill="#c8c8c8" font-weight="bold" stroke="#c8c8c8" stroke-width="0.3">15</text>
<text x="739.93" y="673.40" font-size="14" fill="#c8c8c8" stroke="#c8c8c8" stroke-width="0.3">16</text>
<text x="843.17" y="673.40" font-size="14" fill="#c8c8c8" stroke="#c8c8c8" stroke-width="0.3">17</text>
<text x="19.00" y="719.50" font-size="18.5" fill="#d8d8d8" textLength="20.60" lengthAdjust="spacingAndGlyphs" stroke="#d8d8d8" stroke-width="0.45">1D</text>
<text x="55.46" y="719.50" font-size="18.5" fill="#d8d8d8" textLength="21.11" lengthAdjust="spacingAndGlyphs" stroke="#d8d8d8" stroke-width="0.45">5D</text>
<text x="92.11" y="719.50" font-size="18.5" fill="#d8d8d8" textLength="24.09" lengthAdjust="spacingAndGlyphs" stroke="#d8d8d8" stroke-width="0.45">1M</text>
<text x="130.58" y="719.50" font-size="18.5" fill="#d8d8d8" textLength="23.70" lengthAdjust="spacingAndGlyphs" stroke="#d8d8d8" stroke-width="0.45">3M</text>
<text x="168.84" y="719.50" font-size="18.5" fill="#d8d8d8" textLength="24.06" lengthAdjust="spacingAndGlyphs" stroke="#d8d8d8" stroke-width="0.45">6M</text>
<text x="207.57" y="719.50" font-size="18.5" fill="#d8d8d8" textLength="32.28" lengthAdjust="spacingAndGlyphs" stroke="#d8d8d8" stroke-width="0.45">YTD</text>
<text x="256.08" y="719.50" font-size="18.5" fill="#d8d8d8" textLength="20.06" lengthAdjust="spacingAndGlyphs" stroke="#d8d8d8" stroke-width="0.45">1Y</text>
<text x="291.49" y="719.50" font-size="18.5" fill="#d8d8d8" textLength="10.11" lengthAdjust="spacingAndGlyphs" stroke="#d8d8d8" stroke-width="0.45">A</text>
<path d="M304.5 705.4 V716.8 Q304.5 719.2 306.9 719.2 M310.3 705.4 V716.8 Q310.3 719.2 312.7 719.2" fill="none" stroke="#d8d8d8" stroke-width="1.8"/>
<text x="865.81" y="719.40" font-size="18.3" fill="#d8d8d8" textLength="70.94" lengthAdjust="spacingAndGlyphs" stroke="#d8d8d8" stroke-width="0.45">04:18:45</text>
<text x="942.42" y="719.40" font-size="18.3" fill="#d8d8d8" stroke="#d8d8d8" stroke-width="0.45">UTC</text>
</svg>
</body></html>
